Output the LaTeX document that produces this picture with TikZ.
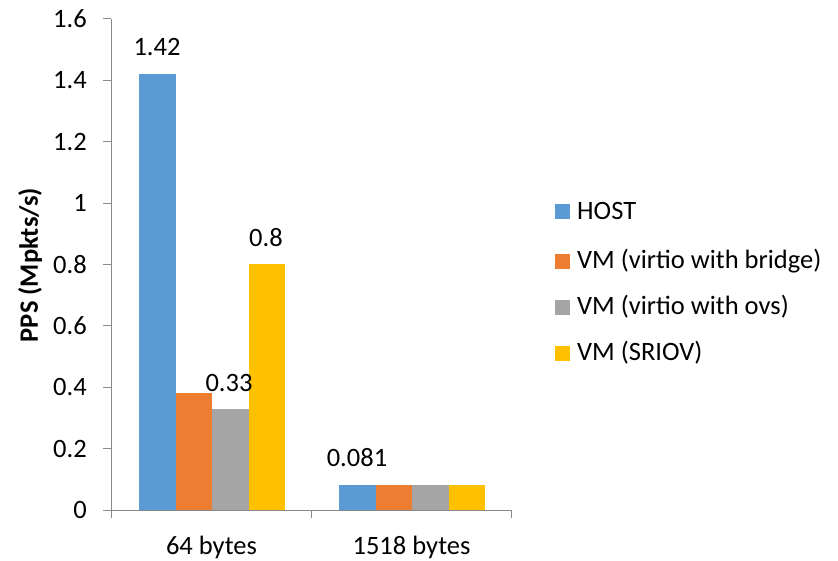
\documentclass[tikz,border=0pt]{standalone}
\usepackage{fontspec}
\setmainfont{Carlito}
\definecolor{cHost}{HTML}{5B9BD5}
\definecolor{cBridge}{HTML}{ED7D31}
\definecolor{cOvs}{HTML}{A5A5A5}
\definecolor{cSriov}{HTML}{FFC000}
\definecolor{axisgray}{HTML}{898989}
\tikzset{
  lbl/.style={font=\fontsize{26.5}{31}\selectfont, inner sep=0pt, text=black},
  ylbl/.style={lbl, anchor=east},
  axisline/.style={draw=axisgray, line width=1pt},
  legbox/.style={minimum size=15pt, inner sep=0pt, draw=none}
}
\begin{document}
\begin{tikzpicture}[x=1pt,y=-1pt]
\useasboundingbox (0,0) rectangle (838,560);
% bars group 1
\fill[cHost]   (139,510) rectangle (175.5,{510-307*1.42});
\fill[cBridge] (175.5,510) rectangle (212,{510-307*0.38});
\fill[cOvs]    (212,510) rectangle (248.5,{510-307*0.33});
\fill[cSriov]  (248.5,510) rectangle (285,{510-307*0.8});
% bars group 2
\fill[cHost]   (339,510) rectangle (375.5,{510-307*0.081});
\fill[cBridge] (375.5,510) rectangle (412,{510-307*0.081});
\fill[cOvs]    (412,510) rectangle (448.5,{510-307*0.081});
\fill[cSriov]  (448.5,510) rectangle (485,{510-307*0.081});
% axes
\draw[axisline] (111,19) -- (111,510);
\draw[axisline] (103,510) -- (511,510);
\foreach \i in {0,...,8} {
  \draw[axisline] (103,{510-61.4*\i}) -- (111,{510-61.4*\i});
}
\foreach \xx in {111,311,511} {
  \draw[axisline] (\xx,510) -- (\xx,518);
}
% y tick labels
\node[ylbl] (y0) at (87,510) {0};
\node[ylbl] (y1) at (87,448.6) {0.2};
\node[ylbl] (y2) at (87,387.2) {0.4};
\node[ylbl] (y3) at (87,325.8) {0.6};
\node[ylbl] (y4) at (87,264.4) {0.8};
\node[ylbl] (y5) at (87,203) {1};
\node[ylbl] (y6) at (87,141.6) {1.2};
\node[ylbl] (y7) at (87,80.2) {1.4};
\node[ylbl] (y8) at (87,18.8) {1.6};
% axis title
\node[lbl, font=\fontsize{26.5}{31}\selectfont\bfseries, rotate=90] (ytitle) at (30,265) {PPS (Mpkts/s)};
% category labels
\node[lbl] (c1) at (211.5,547) {64 bytes};
\node[lbl] (c2) at (411.5,547) {1518 bytes};
% data labels
\node[lbl] (d1) at (157,47) {1.42};
\node[lbl] (d2) at (229,383) {0.33};
\node[lbl] (d3) at (266,238) {0.8};
\node[lbl] (d4) at (357,458) {0.081};
% legend
\node[legbox, fill=cHost]   (k1) at (562.5,211) {};
\node[legbox, fill=cBridge] (k2) at (562.5,261) {};
\node[legbox, fill=cOvs]    (k3) at (562.5,307) {};
\node[legbox, fill=cSriov]  (k4) at (562.5,353) {};
\node[lbl, anchor=west] (t1) at (577,211) {HOST};
\node[lbl, anchor=west] (t2) at (577,261) {VM (virtio with bridge)};
\node[lbl, anchor=west] (t3) at (577,307) {VM (virtio with ovs)};
\node[lbl, anchor=west] (t4) at (577,353) {VM (SRIOV)};
\end{tikzpicture}
\end{document}
